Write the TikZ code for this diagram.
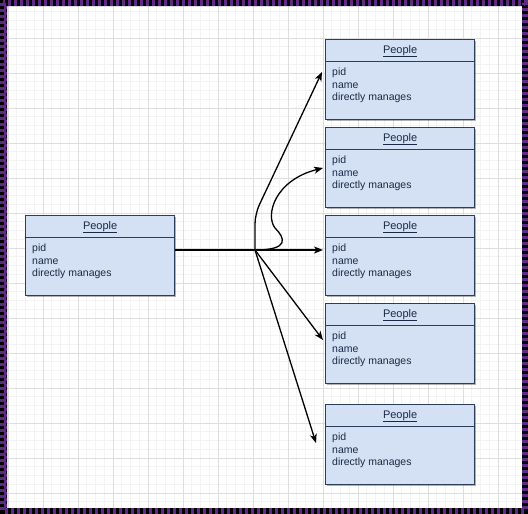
\documentclass[tikz,border=0pt]{standalone}
\usepackage{fontspec}
\setmainfont{Liberation Sans}
\usetikzlibrary{calc,arrows.meta,shadows}
\definecolor{boxfill}{HTML}{D4E1F5}
\definecolor{boxline}{HTML}{2B3F5C}
\definecolor{txt}{HTML}{1A2A45}
\definecolor{brdpurple}{HTML}{5E2A84}
\definecolor{gridmajor}{HTML}{DEDEDE}
\definecolor{gridminor}{HTML}{F3F3F3}
\tikzset{
  erbox/.style={draw=boxline, line width=1.3pt, fill=boxfill, minimum width=149pt, minimum height=80pt, inner sep=0pt,
    drop shadow={shadow xshift=1.5pt, shadow yshift=-1.5pt, fill=black, opacity=0.3}},
  erline/.style={draw=boxline, line width=0.8pt},
  ertitle/.style={text=txt, font=\fontsize{11}{13}\selectfont, inner sep=0pt},
  erattr/.style={text=txt, font=\fontsize{10.5}{12.5}\selectfont, inner sep=0pt, anchor=base west},
  conn/.style={draw=black, line width=1.3pt, -{Stealth[length=9pt,width=7pt,inset=2.5pt]}},
  plainconn/.style={draw=black, line width=1.3pt},
  gminor/.style={draw=gridminor, line width=0.6pt},
  gmajor/.style={draw=gridmajor, line width=0.8pt},
}
\newcommand\peoplebox[3]{%
  \node[erbox, anchor=north west] (#1) at (#2,#3) {};
  \draw[erline] ($(#1.north west)+(0,22)$) -- ($(#1.north east)+(0,22)$);
  \node[ertitle, anchor=base] (#1t) at ($(#1.north)+(0,14)$) {\underline{People}};
  \node[erattr] (#1p) at ($(#1.north west)+(7,36.5)$) {pid};
  \node[erattr] (#1n) at ($(#1.north west)+(7,49)$) {name};
  \node[erattr] (#1d) at ($(#1.north west)+(7,61.5)$) {directly manages};
}
\begin{document}
\begin{tikzpicture}[x=1pt,y=-1pt]
\useasboundingbox (0,0) rectangle (528,514);
\fill[white] (0,0) rectangle (528,514);
\begin{scope}
  \clip (0,0) rectangle (528,514);
  \foreach \i in {-1,...,60} {
    \draw[gminor] ({8+8.75*\i},0) -- ({8+8.75*\i},514);
    \draw[gminor] (0,{3+8.75*\i}) -- (528,{3+8.75*\i});
  }
  \foreach \i in {-1,...,15} {
    \draw[gmajor] ({8+35*\i},0) -- ({8+35*\i},514);
    \draw[gmajor] (0,{3+35*\i}) -- (528,{3+35*\i});
  }
\end{scope}
% border
\fill[black, even odd rule] (0,0) rectangle (528,514) (7,6) rectangle (522,508);
\draw[brdpurple, line width=6pt, dash pattern=on 3pt off 3pt] (3,3) rectangle (525,511);
\draw[brdpurple, line width=3pt, dash pattern=on 3pt off 3pt] (5.5,6) -- (5.5,508);
% boxes
\peoplebox{a}{25}{215}
\peoplebox{b1}{325}{39}
\peoplebox{b2}{325}{127}
\peoplebox{b3}{325}{215}
\peoplebox{b4}{325}{303}
\peoplebox{b5}{325}{404}
% connectors
\coordinate (hub) at (255,250);
\coordinate (e5) at (316,443);
\draw[plainconn] ($(a.north east)+(0,35)$) -- (hub);
\draw[conn, rounded corners=10pt] (hub) -- (255,214) -- ($(b1.north west)+(-3,33)$);
\draw[conn] (hub) .. controls (290,250) and (285,238) .. (275,228)
   .. controls (265,215) and (275,180) .. ($(b2.north west)+(-2,41)$);
\draw[conn] (hub) -- ($(b3.north west)+(-2,35)$);
\draw[conn] (hub) -- ($(b4.north west)+(-2,37)$);
\draw[conn] (hub) -- (e5);
\end{tikzpicture}
\end{document}
